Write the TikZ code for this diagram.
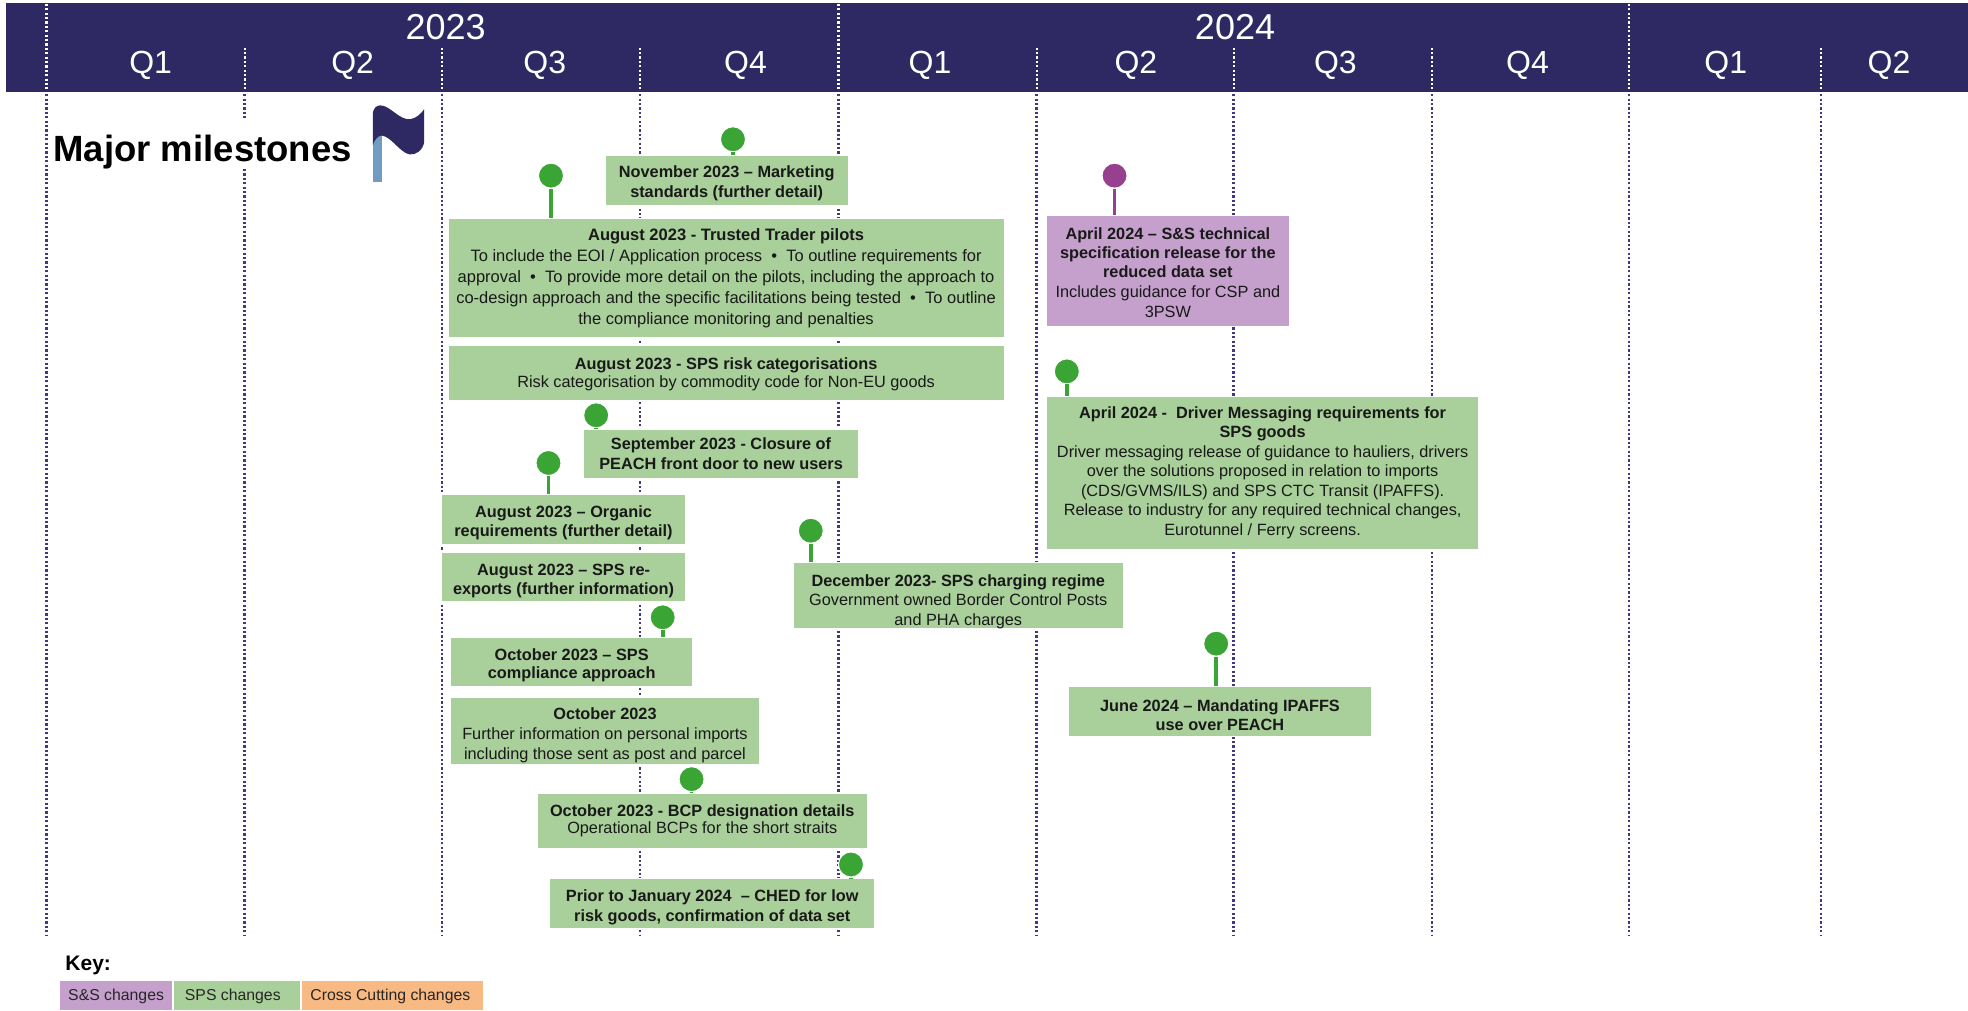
\documentclass[tikz,border=0pt]{standalone}
\usepackage{fontspec}
\setmainfont{Liberation Sans}
\definecolor{navy}{HTML}{2E2963}
\definecolor{dotnavy}{HTML}{3F3A80}
\definecolor{sps}{HTML}{A9D09A}
\definecolor{sns}{HTML}{C5A0CC}
\definecolor{cross}{HTML}{F9B982}
\definecolor{pingreen}{HTML}{3AA535}
\definecolor{pinpurple}{HTML}{97408F}
\definecolor{polecol}{HTML}{6F9CC0}
\newcommand{\dn}[1]{\rule{0pt}{#1pt}}
\tikzset{
  msbox/.style={rectangle,draw=white,line width=0.8pt,fill=sps,align=center,inner sep=0pt,
    text=black!90,font=\fontsize{16.3}{19.6}\selectfont},
  ssbox/.style={msbox,fill=sns},
  pinhead/.style={circle,fill=pingreen,draw=white,line width=1pt,inner sep=0pt,minimum size=25pt},
  pinheadp/.style={pinhead,fill=pinpurple},
  stem/.style={pingreen,line width=3.6pt},
  stemp/.style={pinpurple,line width=3.6pt},
  gridline/.style={dotnavy,line width=2.6pt,dash pattern=on 2.2pt off 2.2pt},
  gridhead/.style={white,line width=2.2pt,dash pattern=on 2.2pt off 2.2pt},
  qlabel/.style={white,font=\fontsize{32}{36}\selectfont,inner sep=0pt},
  ylabel/.style={white,font=\fontsize{36}{40}\selectfont,inner sep=0pt},
  keybox/.style={rectangle,inner sep=0pt,font=\fontsize{15.8}{18}\selectfont,text=black!85,minimum height=29pt},
}
\begin{document}
\begin{tikzpicture}[x=1.2551pt,y=-1.2547pt]
\useasboundingbox (0,0) rectangle (1568,805);
\fill[white] (0,0) rectangle (1568,805);
% header
\fill[navy] (5,2.5) rectangle (1568,73);
% grid lines below header
\foreach \x in {37,195,352,510,668,826,983,1141,1298,1451}
  \draw[gridline] (\x,75) -- (\x,746);
% grid lines in header
\foreach \x in {37,668,1298} \draw[gridhead] (\x,3) -- (\x,71);
\foreach \x in {195,352,510,826,983,1141,1451} \draw[gridhead] (\x,38) -- (\x,71);
% header labels
\node[ylabel] (y23) at (355,22) {2023};
\node[ylabel] (y24) at (984,22) {2024};
\node[qlabel] (q1) at (120,52) {Q1};
\node[qlabel] (q2) at (281,52) {Q2};
\node[qlabel] (q3) at (434,52) {Q3};
\node[qlabel] (q4) at (594,52) {Q4};
\node[qlabel] (q5) at (741,52) {Q1};
\node[qlabel] (q6) at (905,52) {Q2};
\node[qlabel] (q7) at (1064,52) {Q3};
\node[qlabel] (q8) at (1217,52) {Q4};
\node[qlabel] (q9) at (1375,52) {Q1};
\node[qlabel] (q10) at (1505,52) {Q2};
% title and flag
\fill[white] (185,94) rectangle (205,135);
\node[anchor=west,inner sep=0pt,font=\fontsize{36.5}{40}\selectfont\bfseries] (title) at (42.5,121) {Major milestones};
\fill[polecol] (297,105) rectangle (304,145);
\fill[navy] (297,116) -- (297,92) .. controls (297,86) and (300,84) .. (303,84)
  .. controls (311,84) and (318,96) .. (327,95) .. controls (332,94) and (335,91) .. (338,87)
  -- (338,113) .. controls (337,120) and (331,124) .. (326,123)
  .. controls (318,121) and (312,109) .. (304,108) .. controls (301,108) and (298,112) .. (297,116) -- cycle;
% boxes
\node[msbox,minimum width=194*1.2551pt,minimum height=40*1.2547pt] (nov) at (579,144)
  {\dn{17}\textbf{November 2023 – Marketing}\\\textbf{standards (further detail)}};
\node[msbox,minimum width=443*1.2551pt,minimum height=95*1.2547pt,font=\fontsize{16.5}{21}\selectfont] (tt) at (578.5,221.5)
  {\textbf{August 2023 - Trusted Trader pilots}\\
  To include the EOI / Application process \ • \ To outline requirements for\\
  approval \ • \ To provide more detail on the pilots, including the approach to\\
  co-design approach and the specific facilitations being tested \ • \ To outline\\
  the compliance monitoring and penalties};
\node[msbox,minimum width=443*1.2551pt,minimum height=44*1.2547pt] (risk) at (578.5,297)
  {\dn{14.5}\textbf{August 2023 - SPS risk categorisations}\\[-1.5pt]
  Risk categorisation by commodity code for Non-EU goods};
\node[msbox,minimum width=219*1.2551pt,minimum height=39*1.2547pt] (sep) at (574.5,361.5)
  {\textbf{September 2023 - Closure of}\\\textbf{PEACH front door to new users}};
\node[msbox,minimum width=194*1.2551pt,minimum height=40*1.2547pt] (org) at (449,414)
  {\dn{18.5}\textbf{August 2023 – Organic}\\\textbf{requirements (further detail)}};
\node[msbox,minimum width=194*1.2551pt,minimum height=39*1.2547pt] (rex) at (449,459.5)
  {\dn{20.5}\textbf{August 2023 – SPS re-}\\\textbf{exports (further information)}};
\node[msbox,minimum width=193*1.2551pt,minimum height=39*1.2547pt] (oct1) at (455.5,527.5)
  {\dn{19}\textbf{October 2023 – SPS}\\[-1.5pt]\textbf{compliance approach}};
\node[msbox,minimum width=246*1.2551pt,minimum height=53*1.2547pt] (oct2) at (482,582.5)
  {\dn{20.5}\textbf{October 2023}\\Further information on personal imports\\including those sent as post and parcel};
\node[msbox,minimum width=263*1.2551pt,minimum height=44*1.2547pt] (bcp) at (559.5,654)
  {\textbf{October 2023 - BCP designation details}\\[-2pt]Operational BCPs for the short straits};
\node[msbox,minimum width=259*1.2551pt,minimum height=40*1.2547pt] (prior) at (567.5,720)
  {\dn{20}\textbf{Prior to January 2024 \ – CHED for low}\\\textbf{risk goods, confirmation of data set}};
\node[msbox,minimum width=263*1.2551pt,minimum height=53*1.2547pt] (dec) at (763.5,474.5)
  {\dn{24}\textbf{December 2023- SPS charging regime}\\Government owned Border Control Posts\\and PHA charges};
\node[ssbox,minimum width=193*1.2551pt,minimum height=88*1.2547pt] (tech) at (930.5,216)
  {\dn{15}\textbf{April 2024 – S\&S technical}\\[-1pt]\textbf{specification release for the}\\\textbf{reduced data set}\\Includes guidance for CSP and\\3PSW};
\node[msbox,minimum width=344*1.2551pt,minimum height=122*1.2547pt] (drv) at (1006,377)
  {\textbf{April 2024 - \ Driver Messaging requirements for}\\[-1pt]\textbf{SPS goods}\\
  Driver messaging release of guidance to hauliers, drivers\\
  over the solutions proposed in relation to imports\\
  (CDS/GVMS/ILS) and SPS CTC Transit (IPAFFS).\\
  Release to industry for any required technical changes,\\
  Eurotunnel / Ferry screens.};
\node[msbox,minimum width=242*1.2551pt,minimum height=40*1.2547pt] (jun) at (972,567)
  {\dn{19}\textbf{June 2024 – Mandating IPAFFS}\\\textbf{use over PEACH}};
% pins
\node[pinhead] (pnov) at (584,111) {};
\node[pinhead] (ptt) at (439,140) {};
\node[pinhead] (psep) at (475,331) {};
\node[pinhead] (porg) at (437,369) {};
\node[pinhead] (poct1) at (528,492) {};
\node[pinhead] (pbcp) at (551,621) {};
\node[pinhead] (pprior) at (678,689) {};
\node[pinhead] (pdec) at (646,423) {};
\node[pinheadp] (ptech) at (888,140) {};
\node[pinhead] (pdrv) at (850,296) {};
\node[pinhead] (pjun) at (969,513) {};
% stems
\draw[stem] (pnov.south) -- (pnov.south |- nov.north);
\draw[stem] (ptt.south) -- (ptt.south |- tt.north);
\draw[stem] (psep.south) -- (psep.south |- sep.north);
\draw[stem] (porg.south) -- (porg.south |- org.north);
\draw[stem] (poct1.south) -- (poct1.south |- oct1.north);
\draw[stem] (pbcp.south) -- (pbcp.south |- bcp.north);
\draw[stem] (pprior.south) -- (pprior.south |- prior.north);
\draw[stem] (pdec.south) -- (pdec.south |- dec.north);
\draw[stemp] (ptech.south) -- (ptech.south |- tech.north);
\draw[stem] (pdrv.south) -- (pdrv.south |- drv.north);
\draw[stem] (pjun.south) -- (pjun.south |- jun.north);
% key
\node[anchor=west,inner sep=0pt,font=\fontsize{21}{24}\selectfont\bfseries] (key) at (52,769.5) {Key:};
\node[keybox,fill=sns,minimum width=89*1.2551pt] (k1) at (92.5,793.5) {\dn{14}S\&S changes};
\node[keybox,fill=sps,minimum width=100*1.2551pt] (k2) at (189,793.5) {\dn{14}SPS changes\rule{8.8pt}{0pt}};
\node[keybox,fill=cross,minimum width=144*1.2551pt] (k3) at (313,793.5) {\dn{14}Cross Cutting changes\rule{5pt}{0pt}};
\end{tikzpicture}
\end{document}
